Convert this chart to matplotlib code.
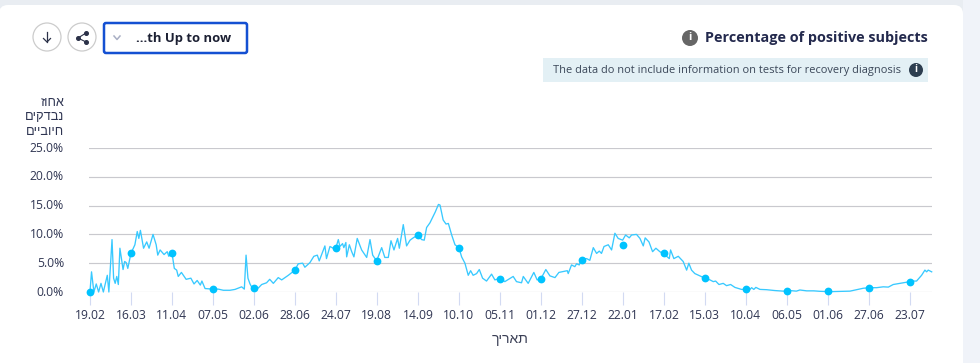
import matplotlib
matplotlib.use('Agg')
import matplotlib.pyplot as plt
from matplotlib.patches import Circle, FancyBboxPatch, Rectangle
from matplotlib.transforms import ScaledTranslation

plt.rcParams['font.family'] = ['Open Sans', 'Liberation Sans', 'DejaVu Sans']

W, H = 980, 363

# chart data, day counted from 19.02
line_days = [0, 1, 2.5, 4, 5.5, 7, 8.5, 11, 12, 14, 15, 16, 17, 18, 19, 21, 22, 23, 24, 26, 28.5, 30, 31, 32,
             34, 36, 37.5, 40, 42, 43, 44.5, 47, 49, 50, 52, 53.5, 55, 56, 58, 61, 64, 66, 68, 70, 71, 73, 78,
             81.4, 84.6, 88.8, 92, 96.2, 97.9, 99, 100.2, 101.5, 102.5, 104, 106.8, 108.9, 112, 114, 116.3,
             119.4, 121.6, 125.8, 130, 132.1, 134.9, 136.3, 139.5, 142, 144.2, 145.4, 149, 150, 152.2, 154.3,
             156, 157.5, 158.5, 160.2, 161, 162.3, 162.8, 164.5, 166, 167.4, 169.5, 172.3, 175.5, 177.6, 179.3,
             181.8, 185, 187, 189.2, 190.9, 192.8, 195.1, 196.2, 198.7, 200.8, 203, 205, 208, 210.3, 212, 213.5,
             215.6, 217.7, 219, 221, 222, 224, 225.8, 227.3, 229.4, 231.5, 234, 235.7, 237.8, 239.9, 241.4, 243,
             245.2, 246.9, 249, 251.5, 254.7, 256.8, 260, 263.1, 268.4, 270.5, 273.7, 274.8, 277.9, 281.5, 283.6,
             286, 289.1, 291.7, 294.9, 297.4, 302.7, 303.3, 305.4, 307.5, 308.6, 310.3, 311.8, 315, 317, 319.2,
             321.3, 323, 324.4, 326, 328.7, 330.8, 332.9, 335, 337.8, 339.7, 342, 343.5, 346.6, 348.8, 350.9,
             352.1, 354.5, 356.8, 358.9, 361.4, 364, 367.4, 368.2, 370.3, 373.1, 376.2, 378.4, 379.8, 381.5,
             383.6, 386.8, 390, 393.2, 395.3, 396.8, 398.9, 401.6, 403.7, 406.3, 409, 413.2, 418.5, 419.6, 421,
             422.3, 424.9, 429.1, 434.4, 439.7, 443.9, 448, 450.2, 454.5, 459, 463, 469.3, 475.6, 482, 486.2,
             490.4, 494.6, 498.9, 503.1, 506.3, 509.4, 513.7, 517.9, 521, 524.2, 527.4, 529.5, 530.6, 531.6, 533.8]
line_values = [0, 3.5, 0, 1.4, 0, 1.5, 0, 2.9, 0, 9.1, 2.4, 1.5, 2.7, 1.3, 7.6, 3.9, 5.3, 5.1, 4.1, 6.7, 8.2, 10.5, 9.3, 10.7,
               7.6, 8.7, 7.6, 10, 8.2, 6.4, 7.3, 6.5, 7, 6.2, 6.8, 4.1, 3.8, 2.7, 3.4, 2.2, 2.4, 1.4, 2, 1.2, 1.9, 0.6, 0.5,
               0.5, 0.3, 0.3, 0.45, 0.9, 0.5, 6.4, 2.4, 1.4, 0.9, 0.7, 0.7, 1.3, 1.6, 2.2, 1.5,
               2.5, 2.1, 2.9, 3.8, 4.9, 5, 4.3, 5.1, 6.2, 6.4, 5.4, 8, 5.8, 7.9, 7.6,
               7.7, 9.1, 7.9, 8.4, 7.7, 8.6, 6.1, 8.2, 7, 6.1, 9.3, 7.3, 6, 9.1, 6.4,
               5.4, 7.7, 6, 6, 8.9, 7.3, 9.3, 7.6, 11.7, 8, 9, 9.4, 9.9, 9.1, 9, 11.2,
               12, 13.2, 13.9, 15.2, 15.1, 12.5, 11.8, 11.9, 9.9, 8.2, 7.7, 6.1, 5, 2.9, 3.7, 2.9,
               3.2, 3.9, 2.4, 1.9, 3.1, 2.1, 2.4, 1.8, 2.7, 1.8, 1.6, 2.7, 1.5, 3.4, 2.1,
               2.3, 3.9, 2.8, 2.5, 3.4, 3.7, 3.2, 4.7, 4.4, 4.9, 4.7, 5.7, 5.8, 5.5, 7.7,
               6.7, 7.1, 6.7, 7.9, 8.2, 7.3, 10.2, 9.3, 9, 9.9, 9.4, 9.9, 10, 9.3, 8,
               9.4, 8.7, 7, 7.6, 7, 6.6, 5.8, 7.3, 5.8, 6.2, 5.3, 3.8, 5, 3.8,
               3.2, 2.8, 2.4, 2.1, 1.8, 1.9, 1.3, 1.5, 1.1, 1.3, 0.8, 0.45, 0.45, 0.75, 0.45,
               0.8, 0.45, 0.4, 0.25, 0.15, 0.25, 0.15, 0.35, 0.2, 0.2, 0.12, 0.06, 0.1, 0.15, 0.4,
               0.65, 0.75, 0.75, 0.9, 0.85, 1.3, 1.5, 1.7, 1.9, 1.9, 2.9, 3.8, 3.5, 3.8, 3.5]

tick_days = [0, 26, 52, 78, 104, 130, 156, 182, 208, 234, 260, 286, 312, 338, 364, 390, 416, 442, 468, 494, 520]
tick_labels = ['19.02', '16.03', '11.04', '07.05', '02.06', '28.06', '24.07', '19.08', '14.09', '10.10', '05.11',
               '01.12', '27.12', '22.01', '17.02', '15.03', '10.04', '06.05', '01.06', '27.06', '23.07']
marker_values = [0, 6.7, 6.8, 0.5, 0.7, 3.8, 7.7, 5.4, 9.9, 7.7, 2.3, 2.3, 5.6, 8.1, 6.7, 2.4, 0.45, 0.15, 0.1, 0.7, 1.8]
y_ticks = [0, 5, 10, 15, 20, 25]

# hebrew is stored in reading order, matplotlib draws it left to right
y_title = ['אחוז', 'נבדקים', 'חיוביים']
x_title = 'תאריך'

TEXT = '#2f3552'
LINE = '#38c9ff'
DOT = '#00c3ff'


def px(x, y):
    return x / W, 1 - y / H


def draw_page(fig):
    bg = fig.add_axes([0, 0, 1, 1])
    bg.set_xlim(0, W)
    bg.set_ylim(H, 0)
    bg.axis('off')
    bg.add_patch(Rectangle((0, 0), W, H, fc='#e9edf2', ec='none'))
    bg.add_patch(Rectangle((963, 0), 17, H, fc='#f0f3f9', ec='none'))
    bg.add_patch(FancyBboxPatch((-1, 5), 964, 400, boxstyle='round,pad=0,rounding_size=9', fc='white', ec='none'))

    # round buttons
    for cx in (47, 82):
        bg.add_patch(Circle((cx, 37), 14, fc='white', ec='#cccccc', lw=0.9))
    bg.plot([47, 47], [32, 42], color='#2b3148', lw=0.9)
    bg.plot([43.5, 47, 50.5], [38.5, 42, 38.5], color='#2b3148', lw=0.9)
    bg.plot([86, 78, 86], [33, 38, 42], color='#2b3148', lw=0.8)
    bg.plot([86, 78, 86], [33, 38, 42], ls='none', marker='o', ms=2.6, color='#2b3148')

    # period dropdown
    bg.add_patch(FancyBboxPatch((104, 23), 143, 30, boxstyle='round,pad=0,rounding_size=2',
                                fc='white', ec='#1450d2', lw=1.8))
    bg.plot([114, 117, 120], [36, 39.5, 36], color='#a9afc4', lw=1.1)
    bg.text(183.5, 38.5, '...th Up to now', ha='center', va='center', fontsize=9.4, fontweight='bold', color='#1c2033')

    # title and note
    bg.add_patch(Circle((690, 38), 8, fc='#666666', ec='none'))
    bg.text(690, 38, 'i', ha='center', va='center', fontsize=8, fontweight='bold', color='white')
    bg.text(928, 38, 'Percentage of positive subjects', ha='right', va='center', fontsize=10.35,
            fontweight='bold', color='#23294d')
    bg.add_patch(Rectangle((543, 58), 385, 24, fc='#e3f0f5', ec='none'))
    bg.text(553, 70, 'The data do not include information on tests for recovery diagnosis', ha='left', va='center',
            fontsize=7.9, color='#3a4658')
    bg.add_patch(Circle((916, 70), 7, fc='#2d3e50', ec='none'))
    bg.text(916, 70, 'i', ha='center', va='center', fontsize=7, fontweight='bold', color='white')


def draw_chart(fig):
    ax = fig.add_axes([89 / W, 1 - 292 / H, 843 / W, 144 / H])
    ax.patch.set_alpha(0)
    ax.set_xlim(-0.6, 534)
    ax.set_ylim(0, 25)
    for spine in ax.spines.values():
        spine.set_visible(False)

    ax.set_yticks(y_ticks)
    ax.set_yticklabels([f'{v:.1f}%' for v in y_ticks], fontsize=8.7, color=TEXT)
    ax.tick_params(axis='y', length=0, pad=18)
    ax.grid(axis='y', color='#c9c9ce', lw=0.85)
    ax.set_axisbelow(True)
    # labels sit a little above their grid line
    shift = ScaledTranslation(0, 1.5 / 100, fig.dpi_scale_trans)
    for label in ax.get_yticklabels():
        label.set_transform(label.get_transform() + shift)

    ax.set_xticks(tick_days)
    ax.set_xticklabels(tick_labels, fontsize=8.7, color=TEXT)
    ax.tick_params(axis='x', length=9.4, width=0.8, color='#d2daf2', pad=2.5)

    ax.plot(line_days, line_values, color=LINE, lw=0.95, clip_on=False, zorder=3)
    ax.plot(tick_days, marker_values, ls='none', marker='o', ms=5.6, color=DOT, mew=0, clip_on=False, zorder=4)

    for i, word in enumerate(y_title):
        x, y = px(64, 102.5 + i * 14.6)
        fig.text(x, y, word[::-1], ha='right', va='center', fontsize=9.2, color=TEXT,
                 family=['Liberation Sans', 'DejaVu Sans'])
    x, y = px(510, 338.5)
    fig.text(x, y, x_title[::-1], ha='center', va='center', fontsize=10, color='#3a3f55',
             family=['Liberation Sans', 'DejaVu Sans'])


def main():
    fig = plt.figure(figsize=(W / 100, H / 100), dpi=100)
    draw_page(fig)
    draw_chart(fig)
    fig.savefig('out.png', dpi=100)
    plt.close(fig)


if __name__ == '__main__':
    main()
